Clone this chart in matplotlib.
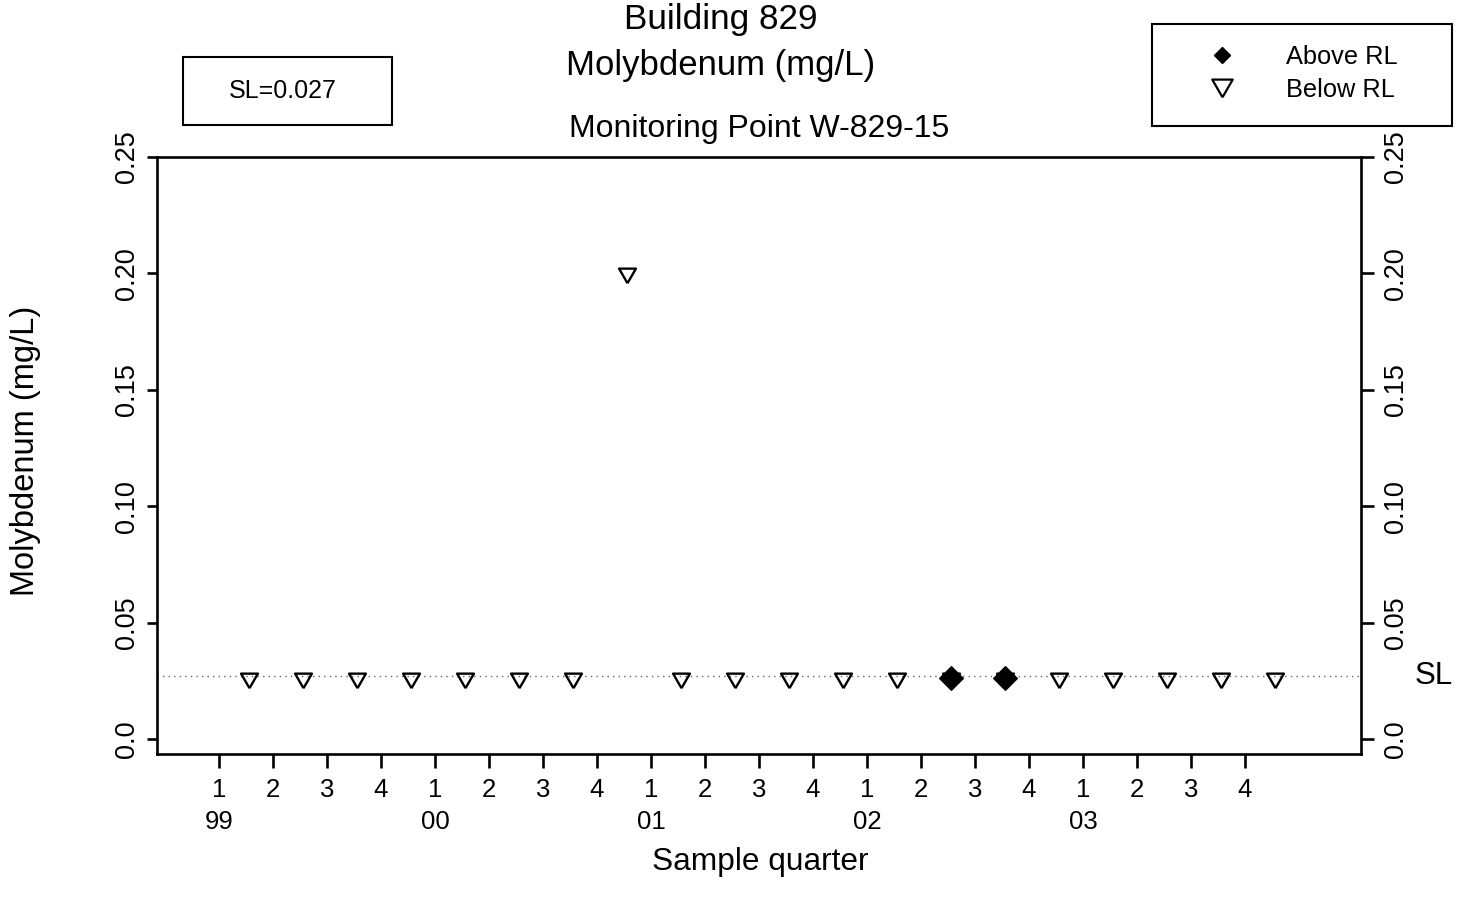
import matplotlib
matplotlib.use("Agg")
import matplotlib.pyplot as plt
from matplotlib.patches import Rectangle
from matplotlib.transforms import blended_transform_factory, ScaledTranslation

plt.rcParams['font.family'] = ['Liberation Sans', 'DejaVu Sans']

# quarterly samples, W-829-15 (x = quarter index from 1999 Q1)
sample_q = [0.56, 1.56, 2.56, 3.56, 4.56, 5.56, 6.56, 7.56, 8.56, 9.56,
            10.56, 11.56, 12.56, 13.56, 14.56, 15.56, 16.56, 17.56, 18.56, 19.56]
mo_conc = [0.026, 0.026, 0.026, 0.026, 0.026, 0.026, 0.026, 0.200, 0.026, 0.026,
           0.026, 0.026, 0.026, 0.026, 0.026, 0.026, 0.026, 0.026, 0.026, 0.026]
above_rl = [False, False, False, False, False, False, False, False, False, False,
            False, False, False, True, True, False, False, False, False, False]
sl_value = 0.027

quarter_labels = ['1', '2', '3', '4'] * 5
year_labels = ['99', '00', '01', '02', '03']
year_pos = [0, 4, 8, 12, 16]
y_ticks = [0.0, 0.05, 0.10, 0.15, 0.20, 0.25]
y_ticklabels = ['0.0', '0.05', '0.10', '0.15', '0.20', '0.25']

W, H = 1468, 913
fig = plt.figure(figsize=(W / 100, H / 100), dpi=100)


def fx(px):
    return px / W


def fy(py):
    return 1 - py / H


ax = fig.add_axes([fx(157), fy(754), fx(1361) - fx(157), fy(157) - fy(754)])
ax.set_xlim(-1.148, 21.15)
ax.set_ylim(-0.00644, 0.25)

# R style down triangle (centred on circumcentre)
tri = [(0, -1), (-0.866, 0.5), (0.866, 0.5), (0, -1)]

ax.axhline(sl_value, color='#666666', linestyle=(0, (1, 3)), lw=1.0, zorder=1)

ax.plot(sample_q, mo_conc, linestyle='none', marker=tri, markersize=14,
        markerfacecolor='none', markeredgecolor='black', markeredgewidth=1.7, zorder=3)
xa = [x for x, f in zip(sample_q, above_rl) if f]
ya = [y for y, f in zip(mo_conc, above_rl) if f]
ax.plot(xa, ya, linestyle='none', marker='D', markersize=12,
        color='black', markeredgewidth=0.8, zorder=4)

for s in ax.spines.values():
    s.set_linewidth(1.9)

ax.set_xticks(range(20))
ax.set_xticklabels([])
ax.tick_params(axis='x', length=10, width=1.9, direction='out')
ax.set_yticks(y_ticks)
ax.set_yticklabels(y_ticklabels)
ax.tick_params(axis='y', length=7.5, width=1.9, direction='out', pad=5,
               right=True, labelright=True, labelsize=19.5, labelrotation=90)
shift = ScaledTranslation(3 / 72, 0, fig.dpi_scale_trans)
for t in ax.yaxis.get_major_ticks():
    t.tick2line.set_markersize(9)
    t.label1.set_va('center')
    t.label2.set_va('center')
    t.label2.set_transform(t.label2.get_transform() + shift)

# quarter and year labels under the axis
tr = blended_transform_factory(ax.transData, fig.transFigure)
for i, q in enumerate(quarter_labels):
    ax.text(i, fy(790), q, transform=tr, ha='center', va='center', fontsize=18.5)
for p, yl in zip(year_pos, year_labels):
    ax.text(p, fy(822), yl, transform=tr, ha='center', va='center', fontsize=18.5)

# SL label on the right
trs = blended_transform_factory(fig.transFigure, ax.transData)
ax.text(fx(1434), sl_value, 'SL', transform=trs, ha='center', va='center', fontsize=22.5)

# titles and axis labels
fig.text(fx(721), fy(20), 'Building 829', ha='center', va='center', fontsize=25.3)
fig.text(fx(721), fy(65), 'Molybdenum (mg/L)', ha='center', va='center', fontsize=25)
fig.text(fx(759), fy(129), 'Monitoring Point W-829-15', ha='center', va='center', fontsize=23)
fig.text(fx(760), fy(862), 'Sample quarter', ha='center', va='center', fontsize=22.8)
fig.text(fx(26), fy(451), 'Molybdenum (mg/L)', ha='center', va='center',
         rotation=90, fontsize=23.5)

# SL box
fig.patches.append(Rectangle((fx(183), fy(125)), fx(392) - fx(183), fy(57) - fy(125),
                             transform=fig.transFigure, fill=False, lw=1.5,
                             edgecolor='black'))
fig.text(fx(283), fy(91), 'SL=0.027', ha='center', va='center', fontsize=18)

# legend box
fig.patches.append(Rectangle((fx(1152), fy(126)), fx(1452) - fx(1152), fy(24) - fy(126),
                             transform=fig.transFigure, fill=False, lw=1.5,
                             edgecolor='black'))
fig.lines.append(plt.Line2D([fx(1222)], [fy(55)], transform=fig.transFigure,
                            marker='D', markersize=8.5, color='black', linestyle='none'))
fig.lines.append(plt.Line2D([fx(1222)], [fy(85)], transform=fig.transFigure,
                            marker=tri, markersize=17, markerfacecolor='none',
                            markeredgecolor='black', markeredgewidth=1.6,
                            linestyle='none'))
fig.text(fx(1286), fy(57), 'Above RL', ha='left', va='center', fontsize=18.3)
fig.text(fx(1286), fy(90), 'Below RL', ha='left', va='center', fontsize=18.3)

fig.savefig('out.png', dpi=100)
